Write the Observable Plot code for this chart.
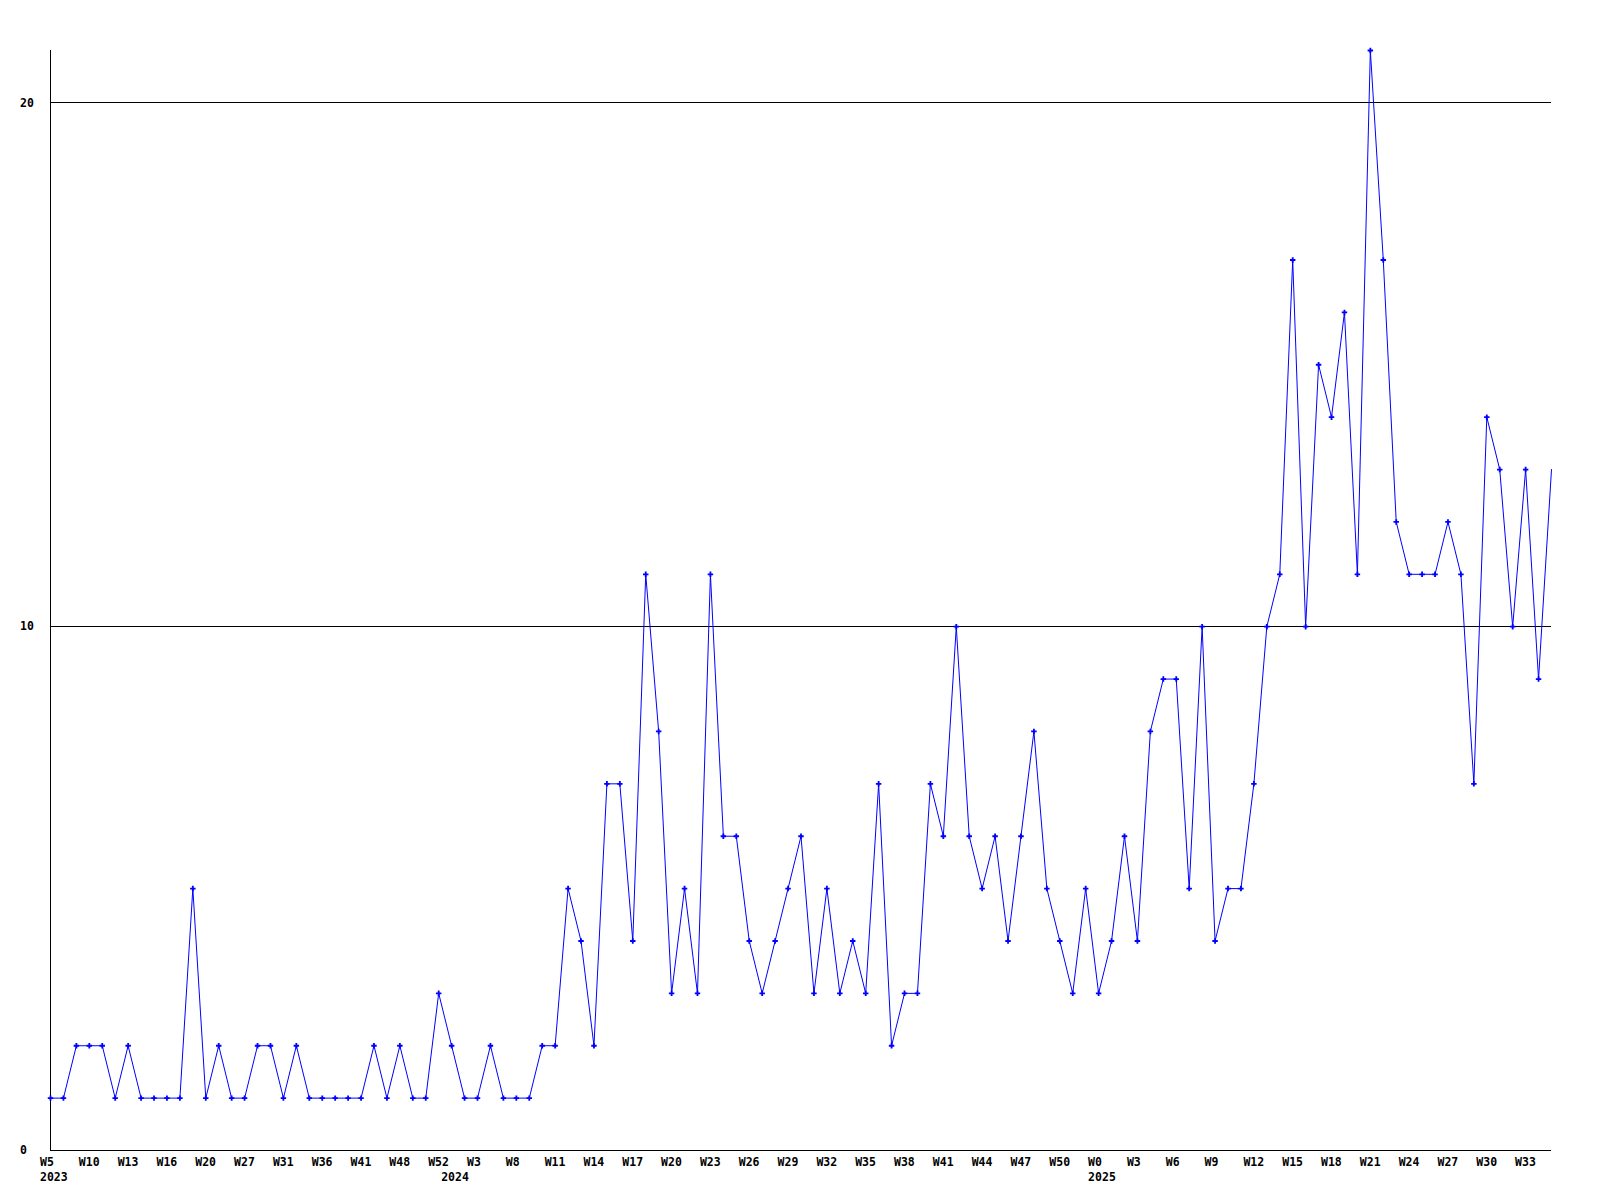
<!DOCTYPE html>
<html>
<head>
<meta charset="utf-8">
<script src="https://cdn.jsdelivr.net/npm/d3@7"></script>
<script src="https://cdn.jsdelivr.net/npm/@observablehq/plot@0.6"></script>
<style>
  html, body { margin: 0; padding: 0; background: #ffffff; }
  #chart svg { display: block; }
</style>
</head>
<body>
<div id="chart"></div>
<script>
// Weekly counts, one per plotted week (in order)
const values = [
  1, 1, 2, 2, 2, 1, 2, 1, 1, 1,
  1, 5, 1, 2, 1, 1, 2, 2, 1, 2,
  1, 1, 1, 1, 1, 2, 1, 2, 1, 1,
  3, 2, 1, 1, 2, 1, 1, 1, 2, 2,
  5, 4, 2, 7, 7, 4, 11, 8, 3, 5,
  3, 11, 6, 6, 4, 3, 4, 5, 6, 3,
  5, 3, 4, 3, 7, 2, 3, 3, 7, 6,
  10, 6, 5, 6, 4, 6, 8, 5, 4, 3,
  5, 3, 4, 6, 4, 8, 9, 9, 5, 10,
  4, 5, 5, 7, 10, 11, 17, 10, 15, 14,
  16, 11, 21, 17, 12, 11, 11, 11, 12, 11,
  7, 14, 13, 10, 13, 9, 13
];

// Week tick labels, one every 3 plotted weeks
const tickLabels = [
  "W5", "W10", "W13", "W16", "W20", "W27", "W31", "W36", "W41", "W48",
  "W52", "W3", "W8", "W11", "W14", "W17", "W20", "W23", "W26", "W29",
  "W32", "W35", "W38", "W41", "W44", "W47", "W50", "W0", "W3", "W6",
  "W9", "W12", "W15", "W18", "W21", "W24", "W27", "W30", "W33"
];
const tickStep = 3;

// Year labels and the index of the first plotted week of each year
const yearLabels = ["2023", "2024", "2025"];
const yearStart = [0, 31, 81];

// Y axis ticks / gridlines
const yTicks = [0, 10, 20];
const yGrid = [10, 20];

const data = values.map((v, i) => ({i, v}));
const ticks = tickLabels.map((t, k) => ({i: k * tickStep, t}));
const years = yearLabels.map((t, k) => ({i: yearStart[k], t}));
const lastIndex = values.length - 1;

const font = "DejaVu Sans Mono, Liberation Mono, monospace";

const chart = Plot.plot({
  width: 1600,
  height: 1200,
  marginLeft: 50,
  marginRight: 49,
  marginTop: 50,
  marginBottom: 50,
  style: {background: "#ffffff", fontFamily: font},
  x: {type: "linear", domain: [0, lastIndex], axis: null},
  y: {type: "linear", domain: [0, 21], axis: null},
  marks: [
    Plot.ruleY(yGrid, {stroke: "#000000", strokeWidth: 1, shapeRendering: "crispEdges"}),
    Plot.ruleY([0], {stroke: "#000000", strokeWidth: 1, shapeRendering: "crispEdges"}),
    Plot.ruleX([0], {stroke: "#000000", strokeWidth: 1, shapeRendering: "crispEdges"}),
    Plot.line(data, {x: "i", y: "v", stroke: "#0000ff", strokeWidth: 1}),
    Plot.dot(data.filter(d => d.i < lastIndex), {x: "i", y: "v", symbol: "cross", r: 2.3, fill: "#0000ff", stroke: "none"}),
    Plot.text(yTicks, {
      y: d => d, text: d => String(d), frameAnchor: "left", dx: -30.5,
      textAnchor: "start", fontSize: 11.5, fontWeight: "bold", fill: "#000000"
    }),
    Plot.text(ticks, {
      x: "i", text: "t", frameAnchor: "bottom", dy: 15, dx: -10.5,
      textAnchor: "start", fontSize: 11.5, fontWeight: "bold", fill: "#000000"
    }),
    Plot.text(years, {
      x: "i", text: "t", frameAnchor: "bottom", dy: 30, dx: -10.5,
      textAnchor: "start", fontSize: 11.5, fontWeight: "bold", fill: "#000000"
    })
  ]
});

document.getElementById("chart").appendChild(chart);
</script>
</body>
</html>
